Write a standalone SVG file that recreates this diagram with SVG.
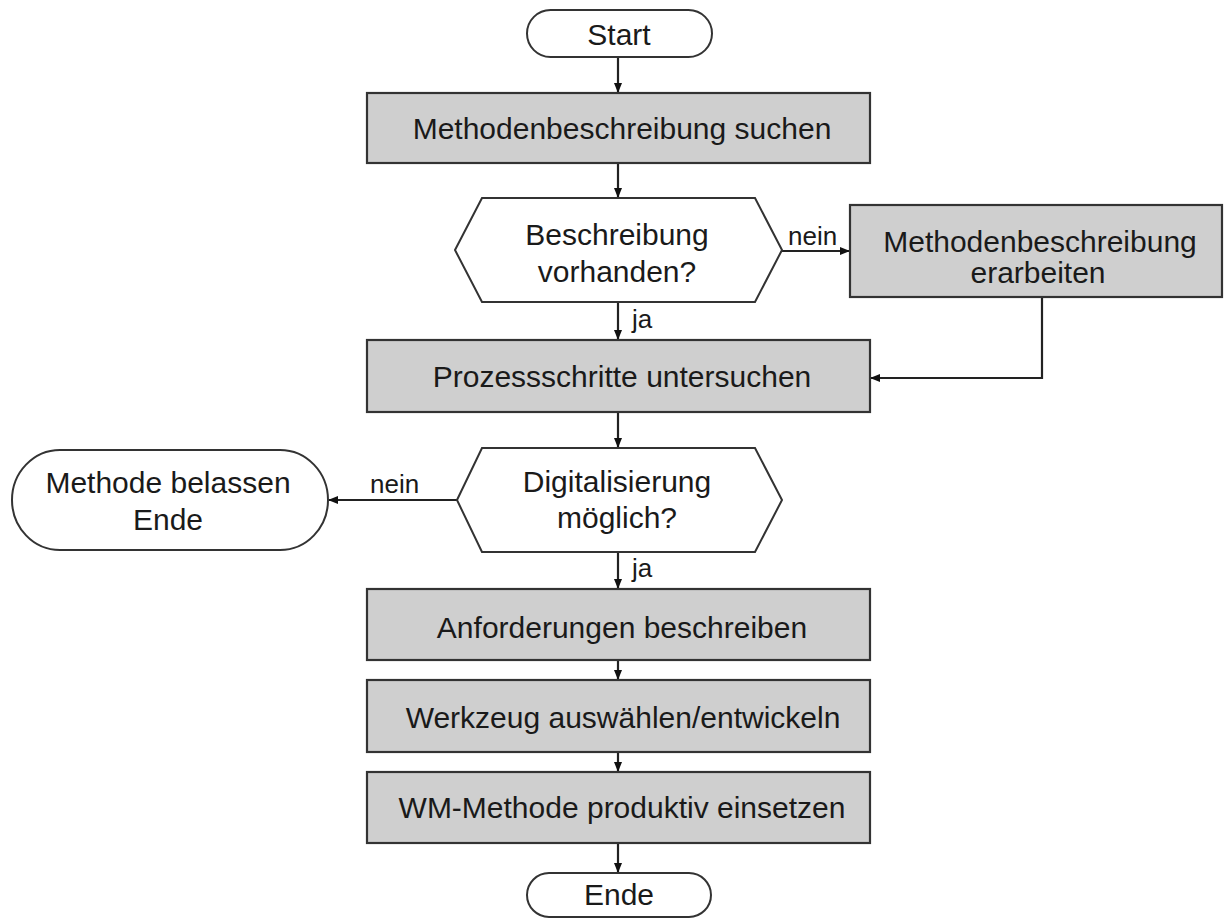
<svg xmlns="http://www.w3.org/2000/svg" width="1225" height="918" viewBox="0 0 1225 918">
<style>
.box{fill:#cfcfcf;stroke:#333;stroke-width:2.2}
.term{fill:#fff;stroke:#333;stroke-width:2}
.dec{fill:#fff;stroke:#333;stroke-width:2}
.t{font-family:"Liberation Sans",Arial,sans-serif;font-size:30px;fill:#1a1a1a;text-anchor:middle}
.l{font-family:"Liberation Sans",Arial,sans-serif;font-size:26px;fill:#1a1a1a}
.c{fill:none;stroke:#222;stroke-width:2.2;marker-end:url(#ah)}
</style>
<defs>
<marker id="ah" markerWidth="10" markerHeight="8" refX="9" refY="4" orient="auto" markerUnits="userSpaceOnUse">
<path d="M0,0 L10,4 L0,8 Z" fill="#111"/>
</marker>
</defs>
<rect width="1225" height="918" fill="#fff"/>
<g id="connectors">
<path class="c" d="M618,57 V92"/>
<path class="c" d="M618,163 V197"/>
<path class="c" d="M782,251 H849"/>
<path class="c" d="M618,302 V339"/>
<path class="c" d="M1042,297 V378 H871"/>
<path class="c" d="M618,412 V447"/>
<path class="c" d="M457,500 H329"/>
<path class="c" d="M618,552 V588"/>
<path class="c" d="M618,660 V679"/>
<path class="c" d="M618,752 V771"/>
<path class="c" d="M618,843 V872"/>
<text class="l" x="788" y="245">nein</text>
<text class="l" x="632" y="328">ja</text>
<text class="l" x="370" y="493">nein</text>
<text class="l" x="632" y="577">ja</text>
</g>
<g id="start">
<rect class="term" x="527" y="10" width="185" height="47" rx="23.5"/>
<text class="t" x="619" y="45">Start</text>
</g>
<g id="box1">
<rect class="box" x="367" y="93" width="503" height="70"/>
<text class="t" x="622" y="139">Methodenbeschreibung suchen</text>
</g>
<g id="dec1">
<polygon class="dec" points="455,250 482,198 755,198 782,250 755,302 482,302"/>
<text class="t" x="617" y="245">Beschreibung</text>
<text class="t" x="617" y="282">vorhanden?</text>
</g>
<g id="box2">
<rect class="box" x="850" y="205" width="372" height="92"/>
<text class="t" x="1040" y="252">Methodenbeschreibung</text>
<text class="t" x="1038" y="283">erarbeiten</text>
</g>
<g id="box3">
<rect class="box" x="367" y="340" width="503" height="72"/>
<text class="t" x="622" y="387">Prozessschritte untersuchen</text>
</g>
<g id="dec2">
<polygon class="dec" points="457,500 482,448 755,448 782,500 755,552 482,552"/>
<text class="t" x="617" y="492">Digitalisierung</text>
<text class="t" x="617" y="528">möglich?</text>
</g>
<g id="belassen">
<rect class="term" x="12" y="450" width="316" height="100" rx="48" ry="50"/>
<text class="t" x="168" y="493">Methode belassen</text>
<text class="t" x="168" y="530">Ende</text>
</g>
<g id="box4">
<rect class="box" x="367" y="589" width="503" height="71"/>
<text class="t" x="622" y="638">Anforderungen beschreiben</text>
</g>
<g id="box5">
<rect class="box" x="367" y="680" width="503" height="72"/>
<text class="t" x="623" y="728">Werkzeug auswählen/entwickeln</text>
</g>
<g id="box6">
<rect class="box" x="367" y="772" width="503" height="71"/>
<text class="t" x="622" y="818">WM-Methode produktiv einsetzen</text>
</g>
<g id="ende">
<rect class="term" x="527" y="873" width="184" height="44" rx="22"/>
<text class="t" x="619" y="905">Ende</text>
</g>
</svg>
